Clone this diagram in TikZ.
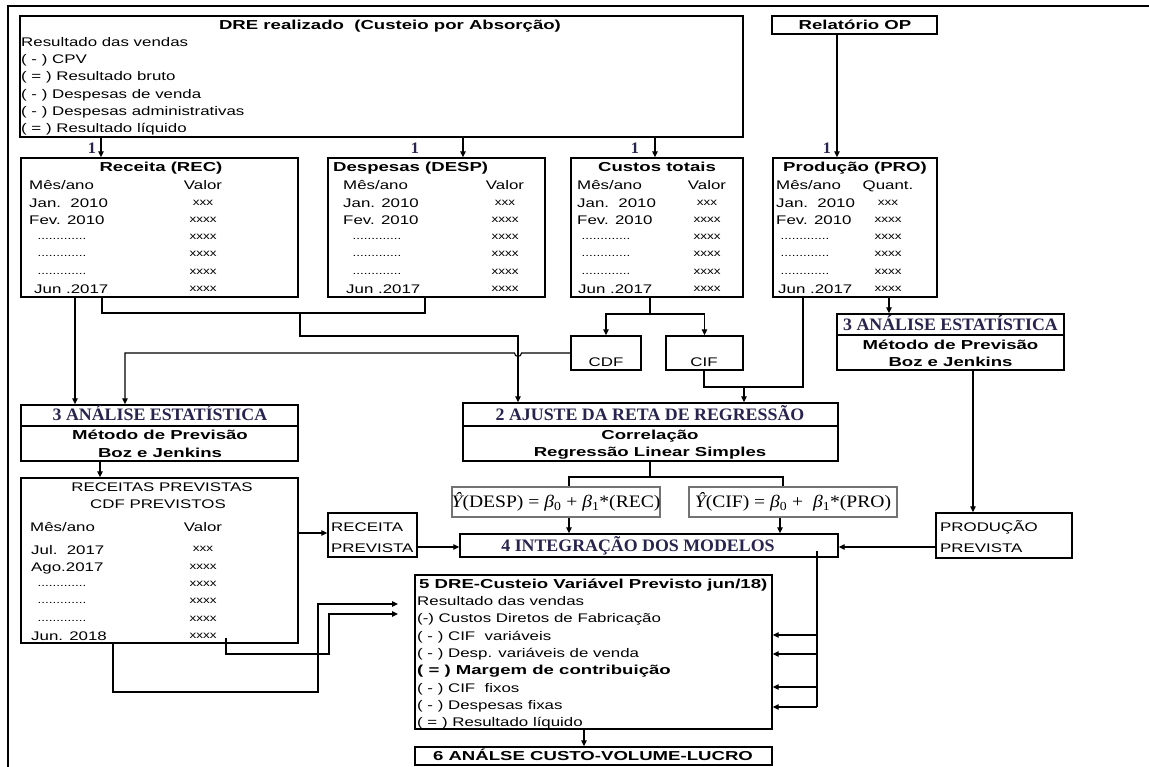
\documentclass[tikz,border=0pt]{standalone}
\usepackage{fontspec}
\setmainfont{Liberation Sans}
\newfontfamily\bodyfont[FakeStretch=1.35]{Liberation Sans}
\newfontfamily\titlefont[FakeStretch=1.43]{Liberation Sans}
\newfontfamily\headfont[FakeStretch=1.02]{Liberation Serif}
\newfontfamily\formfont[FakeStretch=1.12]{Liberation Serif}
\usetikzlibrary{arrows.meta,fit}
\definecolor{headcol}{RGB}{40,36,78}
\definecolor{eqframe}{RGB}{115,115,115}

\tikzset{
  box/.style={draw, line width=1.4pt, inner sep=0pt},
  eqbox/.style={draw=eqframe, line width=1.8pt, inner sep=0pt},
  body/.style={font=\bodyfont\fontsize{12.5}{15}\selectfont, inner sep=0pt, anchor=base west},
  bodyc/.style={body, anchor=base},
  cell/.style={font=\bodyfont\fontsize{10}{12}\selectfont, inner sep=0pt, anchor=base},
  ttl/.style={font=\titlefont\bfseries\fontsize{13}{15}\selectfont, inner sep=0pt, anchor=base},
  ttlw/.style={ttl, anchor=base west},
  hdr/.style={font=\headfont\bfseries\fontsize{17.5}{20}\selectfont, text=headcol, inner sep=0pt, anchor=base},
  one/.style={font=\headfont\bfseries\fontsize{16}{18}\selectfont, text=headcol, inner sep=0pt},
  eq/.style={font=\formfont\fontsize{17.5}{20}\selectfont, inner sep=0pt},
  ln/.style={line width=1.1pt},
  arr/.style={ln, -{Triangle[length=6pt,width=5.5pt]}},
}

% month column of a data table: prefix, left x, dots centre x, x of last row, first-row text
\newcommand\monthcol[5]{%
  \node[body] (#1-m0) at (#2,190) {Mês/ano};
  \node[body] (#1-m1) at (#2,207.3) {#5};
  \node[body] (#1-m2) at (#2,224.6) {Fev. 2010};
  \foreach \k in {3,4,5} \node[cell] (#1-m\k) at (#3,{185.5+17.3*\k+2.3}) {.............};
  \node[body] (#1-m6) at (#4,293.8) {Jun .2017};
}
% value column of a data table: prefix, centre x, heading
\newcommand\valuecol[3]{%
  \node[bodyc] (#1-v0) at (#2,190) {#3};
  \node[cell] (#1-v1) at (#2,205.1) {xxx};
  \foreach \k in {2,...,6} \node[cell] (#1-v\k) at (#2,{185.5+17.3*\k+2.3}) {xxxx};
}

\begin{document}
\begin{tikzpicture}[x=1pt, y=-1pt]
\useasboundingbox (0,0) rectangle (1149,767);
\fill[white] (0,0) rectangle (1149,767);

% outer frame (top and left sides)
\draw[line width=1.5pt] (8,767) -- (8,6) -- (1149,6);

% ---------- realised income statement ----------
\node[box, fit={(20,16) (743,137)}] (dre) {};
\node[ttl] (dre-t) at (390,29.7) {DRE realizado\ \ (Custeio por Absorção)};
\foreach \t [count=\k] in {Resultado das vendas, ( - ) CPV, ( = ) Resultado bruto,
    ( - ) Despesas de venda, ( - ) Despesas administrativas, ( = ) Resultado líquido}
  \node[body] (dre-l\k) at (21,{42+17.2*(\k-1)+4.5}) {\t};

\node[box, fit={(772,16) (937,34)}] (rel) {};
\node[ttl] (rel-t) at (855,29.7) {Relatório OP};

% ---------- monthly series ----------
\node[box, fit={(21,158) (298,297)}] (rec) {};
\node[box, fit={(328,158) (545,297)}] (desp) {};
\node[box, fit={(571,158) (743,297)}] (cust) {};
\node[box, fit={(773,158) (937,297)}] (prod) {};

\node[ttl] (rec-t) at (161,171.7) {Receita (REC)};
\node[ttlw] (desp-t) at (333,171.7) {Despesas (DESP)};
\node[ttl] (cust-t) at (657,171.7) {Custos totais};
\node[ttl] (prod-t) at (855,171.7) {Produção (PRO)};

\monthcol{rec}{29}{62}{34}{Jan.\ \ 2010}
\valuecol{rec}{203}{Valor}
\monthcol{desp}{343}{377}{346}{Jan. 2010}
\valuecol{desp}{505}{Valor}
\monthcol{cust}{577}{606}{578}{Jan.\ \ 2010}
\valuecol{cust}{707}{Valor}
\monthcol{prod}{776}{805}{778}{Jan.\ \ 2010}
\valuecol{prod}{888}{Quant.}

% source arrows with their labels
\node[one] (n1) at (92,148) {1};
\node[one] (n2) at (415,148) {1};
\node[one] (n3) at (635,148) {1};
\node[one] (n4) at (827,148) {1};
\coordinate (xa) at (101,0);
\coordinate (xb) at (463,0);
\coordinate (xc) at (655,0);
\coordinate (xd) at (837,0);
\draw[arr] (dre.south -| xa) -- (rec.north -| xa);
\draw[arr] (dre.south -| xb) -- (desp.north -| xb);
\draw[arr] (dre.south -| xc) -- (cust.north -| xc);
\draw[arr] (rel.south -| xd) -- (prod.north -| xd);

% ---------- cost split ----------
\node[box, fit={(571,336) (641,370)}] (cdf) {};
\node[box, fit={(666,336) (743,370)}] (cif) {};
\node[bodyc] (cdf-t) at (606,366.5) {CDF};
\node[bodyc] (cif-t) at (704,366.5) {CIF};

% ---------- statistical analysis (left and right) ----------
\node[box, fit={(21,405) (298,461)}] (an1) {};
\draw[line width=1.4pt] (an1.west |- 0,426) -- (an1.east |- 0,426);
\node[hdr] (an1-t) at (160,420.8) {3 ANÁLISE ESTATÍSTICA};
\node[ttl] (an1-a) at (160,439.7) {Método de Previsão};
\node[ttl] (an1-b) at (160,457.7) {Boz e Jenkins};

\node[box, fit={(837,314) (1064,370)}] (an2) {};
\draw[line width=1.4pt] (an2.west |- 0,335) -- (an2.east |- 0,335);
\node[hdr] (an2-t) at (950.5,330.3) {3 ANÁLISE ESTATÍSTICA};
\node[ttl] (an2-a) at (950.5,349.7) {Método de Previsão};
\node[ttl] (an2-b) at (950.5,366.7) {Boz e Jenkins};

% ---------- regression ----------
\node[box, fit={(463,403) (838,461)}] (aj) {};
\draw[line width=1.4pt] (aj.west |- 0,426) -- (aj.east |- 0,426);
\node[hdr] (aj-t) at (650,420.3) {2 AJUSTE DA RETA DE REGRESSÃO};
\node[ttl] (aj-a) at (650,439.7) {Correlação};
\node[ttl] (aj-b) at (650,456.7) {Regressão Linear Simples};

\node[eqbox, fit={(452,487) (660,517)}] (fd) {};
\node[eqbox, fit={(689,487) (897,517)}] (fc) {};
\node[eq] (fd-t) at (fd.center) {{\itshape Ŷ}(DESP) = {\itshape β}\textsubscript{0} + {\itshape β}\textsubscript{1}*(REC)};
\node[eq] (fc-t) at (fc.center) {{\itshape Ŷ}(CIF) = {\itshape β}\textsubscript{0} +\ \ {\itshape β}\textsubscript{1}*(PRO)};

% ---------- forecasts ----------
\node[box, fit={(21,478) (298,643)}] (rp) {};
\node[bodyc] (rp-t1) at (162,491.5) {RECEITAS PREVISTAS};
\node[bodyc] (rp-t2) at (158,508.5) {CDF PREVISTOS};
\node[body] (rp-m0) at (30,531.5) {Mês/ano};
\node[body] (rp-m1) at (31,554) {Jul.\ \ 2017};
\node[body] (rp-m2) at (31,571.3) {Ago.2017};
\foreach \y [count=\k from 3] in {584.1,601.4,618.7}
  \node[cell] (rp-m\k) at (62,\y+2.3) {.............};
\node[body] (rp-m6) at (31,640.5) {Jun. 2018};
\node[bodyc] (rp-v0) at (203,531.5) {Valor};
\node[cell] (rp-v1) at (203,551.8) {xxx};
\foreach \y [count=\k from 2] in {566.8,584.1,601.4,618.7,636}
  \node[cell] (rp-v\k) at (203,\y+2.3) {xxxx};

\node[box, fit={(328,513) (417,557)}] (rpv) {};
\node[body] (rpv-a) at (331,531.5) {RECEITA};
\node[body] (rpv-b) at (331,552.5) {PREVISTA};

\node[box, fit={(936,513) (1072,558)}] (pp) {};
\node[body] (pp-a) at (940,531.5) {PRODUÇÃO};
\node[body] (pp-b) at (940,552.5) {PREVISTA};

% ---------- integration and forecast statement ----------
\node[box, fit={(460,534) (838,557)}] (int) {};
\node[hdr] (int-t) at (638,551.3) {4 INTEGRAÇÃO DOS MODELOS};

\node[box, fit={(415,575) (772,729)}] (d5) {};
\node[ttlw] (d5-t) at (419,588.7) {5 DRE-Custeio Variável Previsto jun/18)};
\node[body] (d5-l1) at (417,605.5) {Resultado das vendas};
\node[body] (d5-l2) at (417,622.8) {(-) Custos Diretos de Fabricação};
\node[body] (d5-l3) at (417,640.1) {( - ) CIF\ \ variáveis};
\node[body] (d5-l4) at (417,657.4) {( - ) Desp. variáveis de venda};
\node[ttlw] (d5-l5) at (417,674.9) {( = ) Margem de contribuição};
\node[body] (d5-l6) at (417,692) {( - ) CIF\ \ fixos};
\node[body] (d5-l7) at (417,709.3) {( - ) Despesas fixas};
\node[body] (d5-l8) at (417,726.6) {( = ) Resultado líquido};

\node[box, fit={(415,747) (772,765)}] (a6) {};
\node[ttl] (a6-t) at (593,760.7) {6 ANÁLSE CUSTO-VOLUME-LUCRO};

% ---------- connectors ----------
% revenue and expenses
\coordinate (x75) at (75,0);
\draw[arr] (rec.south -| x75) -- (an1.north -| x75);
\coordinate (j1) at (102,313);
\coordinate (j2) at (425,313);
\coordinate (j3) at (300,313);
\coordinate (j4) at (300,336);
\coordinate (j5) at (518,336);
\draw[ln] (rec.south -| j1) -- (j1) -- (j2) -- (desp.south -| j2);
\draw[arr] (j3) -- (j4) -- (j5) -- (aj.north -| j5);

% total costs split into CDF and CIF
\coordinate (j6) at (650,314);
\draw[arr] (cust.south -| j6) -- (j6) -| (cdf.north);
\draw[arr] (j6) -| (cif.north);

% CDF to the left analysis, hopping over the regression feed
\coordinate (x125) at (125,0);
\draw[arr] (cdf.west) -- (521.5,353) arc[start angle=0, end angle=180, radius=3.5]
  -- (x125 |- cdf.west) -- (an1.north -| x125);

% CIF and production to the regression
\coordinate (j7) at (704,387);
\coordinate (j8) at (803,387);
\coordinate (j9) at (744,387);
\draw[ln] (cif.south -| j7) -- (j7) -- (j8) -- (prod.south -| j8);
\draw[arr] (j9) -- (aj.north -| j9);

% production to the right analysis, then to the forecast
\coordinate (x889) at (889,0);
\draw[arr] (prod.south -| x889) -- (an2.north -| x889);
\coordinate (x973) at (973,0);
\draw[arr] (an2.south -| x973) -- (pp.north -| x973);
\coordinate (y547) at (0,547);
\draw[arr] (pp.west |- y547) -- (int.east |- y547);

% regression to the two fitted equations
\coordinate (j10) at (650,477);
\coordinate (j11) at (569,477);
\coordinate (j12) at (783,477);
\draw[ln] (aj.south -| j10) -- (j10);
\draw[ln] (fd.north -| j11) -- (j11) -- (j12) -- (fc.north -| j12);
\coordinate (x569) at (569,0);
\coordinate (x780) at (780,0);
\draw[arr] (fd.south -| x569) -- (int.north -| x569);
\draw[arr] (fc.south -| x780) -- (int.north -| x780);

% left analysis to forecasts, forecast revenue to integration
\coordinate (x100) at (100,0);
\draw[arr] (an1.south -| x100) -- (rp.north -| x100);
\coordinate (y533) at (0,533);
\draw[arr] (rp.east |- y533) -- (rpv.west |- y533);
\draw[arr] (rpv.east |- y547) -- (int.west |- y547);

% forecasts into the variable-costing statement
\coordinate (o1) at (113,692);
\coordinate (o2) at (318,692);
\coordinate (o3) at (318,604);
\coordinate (o4) at (398,604);
\draw[arr] (rp.south -| o1) -- (o1) -- (o2) -- (o3) -- (o4);
\coordinate (i0) at (226,638);
\coordinate (i1) at (226,654);
\coordinate (i2) at (329,654);
\coordinate (i3) at (329,614);
\coordinate (i4) at (398,614);
\draw[arr] (i0) -- (i1) -- (i2) -- (i3) -- (i4);

% integration feeds the variable-cost lines
\coordinate (b0) at (817,551);
\coordinate (b1) at (817,707);
\draw[ln] (b0) -- (b1);
\foreach \yy in {635,654,687,707}
  \draw[arr] (b0 |- 0,\yy) -- (d5.east |- 0,\yy);

% statement to cost-volume-profit analysis
\coordinate (x584) at (584,0);
\draw[arr] (d5.south -| x584) -- (a6.north -| x584);
\end{tikzpicture}
\end{document}
